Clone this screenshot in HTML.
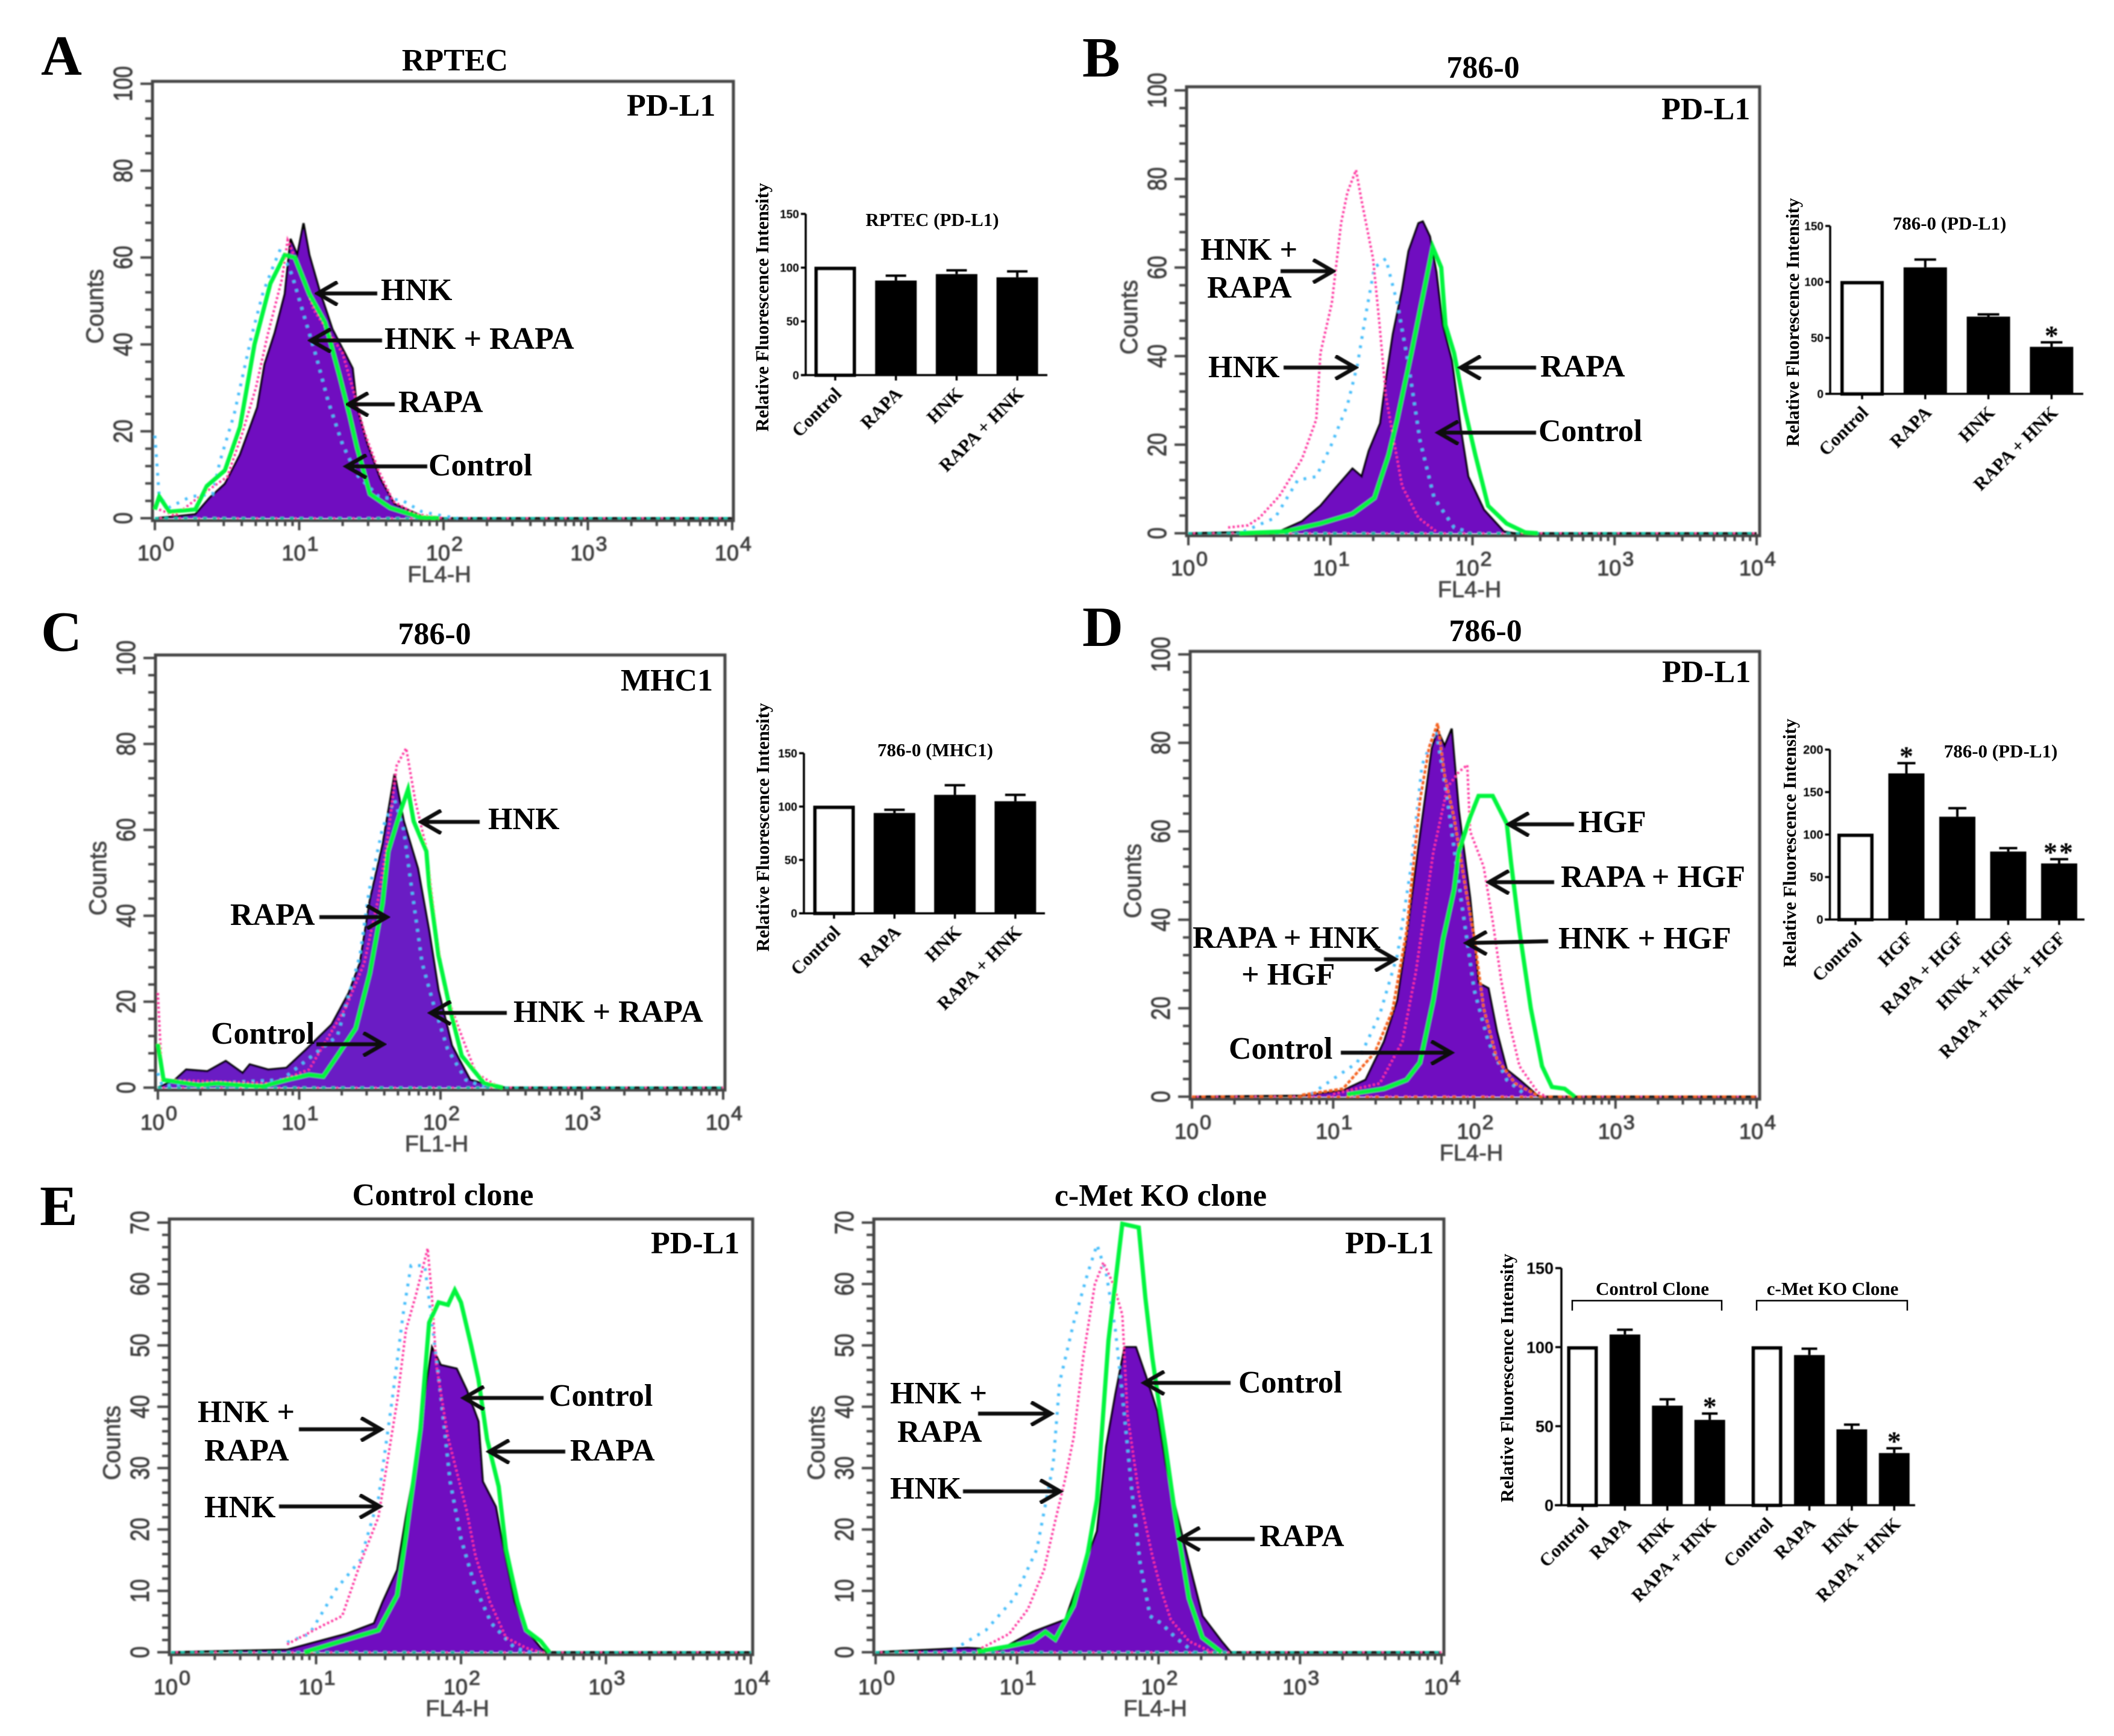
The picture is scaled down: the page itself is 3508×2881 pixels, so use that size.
<!DOCTYPE html>
<html lang="en">
<head>
<meta charset="utf-8">
<title>Flow cytometry histograms and relative fluorescence bar charts</title>
<style>
html,body{margin:0;padding:0;background:#fff;}
svg{display:block;}
.serif{font-family:"Liberation Serif",serif;font-weight:bold;fill:#000;}
.ann{font-size:52px;}
.plab{font-size:94px;}
.btitle{font-size:31px;}
.arrow{fill:none;stroke:#111;stroke-width:6.5;}
</style>
</head>
<body>
<svg xmlns="http://www.w3.org/2000/svg" width="3508" height="2881" viewBox="0 0 3508 2881">
<defs>
<filter id="soft" x="-5%" y="-5%" width="110%" height="110%"><feGaussianBlur stdDeviation="1.1"/></filter>
<filter id="softer" x="-5%" y="-5%" width="110%" height="110%"><feGaussianBlur stdDeviation="0.7"/></filter>
</defs>
<rect width="3508" height="2881" fill="#fff"/>

<g id="flow-a" filter="url(#soft)"></g>
<g id="flow-b" filter="url(#soft)"></g>
<g id="flow-c" filter="url(#soft)"></g>
<g id="flow-d" filter="url(#soft)"></g>
<g id="flow-e1" filter="url(#soft)"></g>
<g id="flow-e2" filter="url(#soft)"></g>

<g id="bars-a" filter="url(#softer)"></g>
<g id="bars-b" filter="url(#softer)"></g>
<g id="bars-c" filter="url(#softer)"></g>
<g id="bars-d" filter="url(#softer)"></g>
<g id="bars-e" filter="url(#softer)"></g>

<!-- panel letters -->
<text class="serif plab" x="68" y="124">A</text>
<text class="serif plab" x="1796" y="127">B</text>
<text class="serif plab" x="68" y="1080">C</text>
<text class="serif plab" x="1796" y="1072">D</text>
<text class="serif plab" x="66" y="2033">E</text>

<!-- panel titles -->
<text class="serif ann" x="755" y="117" text-anchor="middle">RPTEC</text>
<text class="serif ann" x="2461" y="129" text-anchor="middle">786-0</text>
<text class="serif ann" x="721" y="1069" text-anchor="middle">786-0</text>
<text class="serif ann" x="2465" y="1064" text-anchor="middle">786-0</text>
<text class="serif ann" x="735" y="2000" text-anchor="middle">Control clone</text>
<text class="serif ann" x="1926" y="2001" text-anchor="middle">c-Met KO clone</text>

<!-- marker labels -->
<text class="serif ann" x="1040" y="192">PD-L1</text>
<text class="serif ann" x="2757" y="198">PD-L1</text>
<text class="serif ann" x="1030" y="1146">MHC1</text>
<text class="serif ann" x="2758" y="1132">PD-L1</text>
<text class="serif ann" x="1080" y="2080">PD-L1</text>
<text class="serif ann" x="2232" y="2080">PD-L1</text>

<!-- panel A annotations -->
<g>
<text class="serif ann" x="632" y="498">HNK</text>
<text class="serif ann" x="638" y="579">HNK + RAPA</text>
<text class="serif ann" x="661" y="684">RAPA</text>
<text class="serif ann" x="711" y="789">Control</text>
<path class="arrow" filter="url(#softer)" d="M626 487H527M560 468L527 487L560 506"/>
<path class="arrow" filter="url(#softer)" d="M634 565H516M549 546L516 565L549 584"/>
<path class="arrow" filter="url(#softer)" d="M655 671H578M611 652L578 671L611 690"/>
<path class="arrow" filter="url(#softer)" d="M709 774H575M608 755L575 774L608 793"/>
</g>

<!-- panel B annotations -->
<g>
<text class="serif ann" x="1992" y="431">HNK +</text>
<text class="serif ann" x="2003" y="494">RAPA</text>
<text class="serif ann" x="2005" y="626">HNK</text>
<text class="serif ann" x="2556" y="625">RAPA</text>
<text class="serif ann" x="2553" y="732">Control</text>
<path class="arrow" filter="url(#softer)" d="M2125 450H2212M2179 431L2212 450L2179 469"/>
<path class="arrow" filter="url(#softer)" d="M2130 610H2249M2216 591L2249 610L2216 629"/>
<path class="arrow" filter="url(#softer)" d="M2549 610H2424M2457 591L2424 610L2457 629"/>
<path class="arrow" filter="url(#softer)" d="M2549 718H2387M2420 699L2387 718L2420 737"/>
</g>

<!-- panel C annotations -->
<g>
<text class="serif ann" x="810" y="1376">HNK</text>
<text class="serif ann" x="382" y="1535">RAPA</text>
<text class="serif ann" x="350" y="1732">Control</text>
<text class="serif ann" x="852" y="1696">HNK + RAPA</text>
<path class="arrow" filter="url(#softer)" d="M796 1364H699M732 1345L699 1364L732 1383"/>
<path class="arrow" filter="url(#softer)" d="M530 1522H642M609 1503L642 1522L609 1541"/>
<path class="arrow" filter="url(#softer)" d="M525 1733H636M603 1714L636 1733L603 1752"/>
<path class="arrow" filter="url(#softer)" d="M841 1681H715M748 1662L715 1681L748 1700"/>
</g>

<!-- panel D annotations -->
<g>
<text class="serif ann" x="2619" y="1381">HGF</text>
<text class="serif ann" x="2590" y="1472">RAPA + HGF</text>
<text class="serif ann" x="2586" y="1574">HNK + HGF</text>
<text class="serif ann" x="1979" y="1573">RAPA + HNK</text>
<text class="serif ann" x="2060" y="1634">+ HGF</text>
<text class="serif ann" x="2039" y="1757">Control</text>
<path class="arrow" filter="url(#softer)" d="M2612 1368H2504M2537 1349L2504 1368L2537 1387"/>
<path class="arrow" filter="url(#softer)" d="M2579 1464H2471M2504 1445L2471 1464L2504 1483"/>
<path class="arrow" filter="url(#softer)" d="M2569 1562L2434 1565M2467 1546L2434 1565L2467 1584"/>
<path class="arrow" filter="url(#softer)" d="M2197 1592H2315M2282 1573L2315 1592L2282 1611"/>
<path class="arrow" filter="url(#softer)" d="M2225 1747H2408M2375 1728L2408 1747L2375 1766"/>
</g>

<!-- panel E control clone annotations -->
<g>
<text class="serif ann" x="328" y="2360">HNK +</text>
<text class="serif ann" x="339" y="2424">RAPA</text>
<text class="serif ann" x="339" y="2518">HNK</text>
<text class="serif ann" x="911" y="2333">Control</text>
<text class="serif ann" x="946" y="2424">RAPA</text>
<path class="arrow" filter="url(#softer)" d="M496 2372H632M599 2353L632 2372L599 2391"/>
<path class="arrow" filter="url(#softer)" d="M463 2500H630M597 2481L630 2500L597 2519"/>
<path class="arrow" filter="url(#softer)" d="M902 2320H770M803 2301L770 2320L803 2339"/>
<path class="arrow" filter="url(#softer)" d="M938 2409H812M845 2390L812 2409L845 2428"/>
</g>

<!-- panel E KO annotations -->
<g>
<text class="serif ann" x="1477" y="2329">HNK +</text>
<text class="serif ann" x="1489" y="2393">RAPA</text>
<text class="serif ann" x="1477" y="2487">HNK</text>
<text class="serif ann" x="2055" y="2311">Control</text>
<text class="serif ann" x="2090" y="2566">RAPA</text>
<path class="arrow" filter="url(#softer)" d="M1623 2346H1744M1711 2327L1744 2346L1711 2365"/>
<path class="arrow" filter="url(#softer)" d="M1598 2475H1759M1726 2456L1759 2475L1726 2494"/>
<path class="arrow" filter="url(#softer)" d="M2042 2295H1899M1932 2276L1899 2295L1932 2314"/>
<path class="arrow" filter="url(#softer)" d="M2082 2554H1958M1991 2535L1958 2554L1991 2573"/>
</g>

<!-- bar chart titles -->
<text class="serif btitle" x="1547" y="375" text-anchor="middle">RPTEC (PD-L1)</text>
<text class="serif btitle" x="3235" y="381" text-anchor="middle">786-0 (PD-L1)</text>
<text class="serif btitle" x="1552" y="1255" text-anchor="middle">786-0 (MHC1)</text>
<text class="serif btitle" x="3320" y="1257" text-anchor="middle">786-0 (PD-L1)</text>
<text class="serif btitle" x="2742" y="2149" text-anchor="middle">Control Clone</text>
<text class="serif btitle" x="3041" y="2149" text-anchor="middle">c-Met KO Clone</text>
<path d="M2609 2175V2158.5H2857V2175" fill="none" stroke="#000" stroke-width="2.5"/>
<path d="M2915 2175V2158.5H3165V2175" fill="none" stroke="#000" stroke-width="2.5"/>

<!-- bar chart y axis titles -->
<text class="serif btitle" transform="translate(1275 510) rotate(-90)" text-anchor="middle">Relative Fluorescence Intensity</text>
<text class="serif btitle" transform="translate(2985 535) rotate(-90)" text-anchor="middle">Relative Fluorescence Intensity</text>
<text class="serif btitle" transform="translate(1276 1373) rotate(-90)" text-anchor="middle">Relative Fluorescence Intensity</text>
<text class="serif btitle" transform="translate(2980 1399) rotate(-90)" text-anchor="middle">Relative Fluorescence Intensity</text>
<text class="serif btitle" transform="translate(2511 2287) rotate(-90)" text-anchor="middle">Relative Fluorescence Intensity</text>
</svg>

<script>
// ---- shared tick values ----
const xTickDecades = [0, 1, 2, 3, 4];
const xMinorMultipliers = [2, 3, 4, 5, 6, 7, 8, 9];
const yTicks100 = [0, 20, 40, 60, 80, 100];
const yTicks70 = [0, 10, 20, 30, 40, 50, 60, 70];

// ---- Panel A: log10(FL) positions and counts ----
const aControlLog = [0.14,0.28,0.38,0.485,0.59,0.71,0.76,0.83,0.9,0.94,0.987,1.03,1.07,1.14,1.23,1.316,1.37,1.4,1.47,1.56,1.66,1.87,2.0];
const aControlCounts = [0.4,0.9,4.7,7.9,14.6,25.5,35.4,42.6,51.6,64.3,60.6,67.9,60.6,52.5,43.5,38,34.5,25.5,17.3,9.2,3.3,0.2,0];
const aHnkLog = [0,0.03,0.1,0.25,0.4,0.45,0.55,0.67,0.75,0.82,0.87,0.95,1.03,1.12,1.2,1.3,1.4,1.55,1.72,1.85,2,2.1];
const aHnkCounts = [19,5,2.5,5,5.5,13,24,42,52,58,62,56,47,37,27,17,10,5,4,1.5,0.5,0];
const aHnkRapaLog = [0.03,0.14,0.35,0.5,0.6,0.7,0.78,0.88,0.92,0.97,1.03,1.1,1.22,1.3,1.37,1.45,1.55,1.65,1.8,2];
const aHnkRapaCounts = [2,0.6,6,9.5,19,30,42,55,64,60,55,48,42,38,30,20,11,4,1,0];
const aRapaLog = [0,0.03,0.1,0.28,0.36,0.485,0.59,0.69,0.8,0.9,0.97,1.07,1.18,1.28,1.35,1.4,1.49,1.63,1.84,1.97];
const aRapaCounts = [2,5,1.5,2,7.4,11,21,40,54,60.6,60,51.6,45,32.7,23.6,16.4,5.6,2.4,0.2,0];

// ---- Panel B ----
const bControlLog = [0.64,0.8,0.93,1.03,1.155,1.22,1.27,1.35,1.39,1.44,1.505,1.55,1.62,1.65,1.7,1.745,1.79,1.855,1.92,1.97,2.08,2.22,2.29];
const bControlCounts = [0.4,2.7,6.2,10,14.6,12.8,18.6,24.8,34.5,45,55,63.7,70,70.4,67,59,47,39,23,12.8,5.3,0.4,0];
const bHnkLog = [0.39,0.61,0.77,0.9,1.0,1.12,1.19,1.25,1.31,1.39,1.47,1.55,1.63,1.73,1.87,1.98];
const bHnkCounts = [0.4,3.5,12,12.8,19.5,29,38,49.6,60,62,52,38,21,8,1.3,0.2];
const bHnkRapaLog = [0.28,0.42,0.5,0.64,0.8,0.9,0.93,1.01,1.075,1.12,1.18,1.22,1.3,1.346,1.39,1.44,1.505,1.62,1.745];
const bHnkRapaCounts = [1.3,1.8,3.5,8.4,16.8,25.7,40.7,52,70,77,82,75,62,47,31,22,10.6,3.5,0.4];
const bRapaLog = [0.36,0.68,0.93,1.155,1.31,1.41,1.47,1.57,1.665,1.72,1.78,1.81,1.87,1.95,2.02,2.11,2.24,2.37,2.46];
const bRapaCounts = [0,0.4,2.2,4.4,8,17.7,25.7,40.7,55.8,64.6,60,47,40.7,27.4,17.7,6.2,2.2,0.2,0];

// ---- Panel C ----
const cControlLog = [0.12,0.2,0.35,0.48,0.6,0.65,0.78,0.91,1.04,1.23,1.35,1.43,1.5,1.59,1.675,1.74,1.84,1.92,1.985,2.08,2.21,2.38,2.47];
const cControlCounts = [1.8,4.2,3.8,6.2,3.4,5.4,4.2,4.6,8.6,14.7,22,29,43.6,56.5,73,62,51,36.4,22.7,9.8,1.8,0.3,0];
const cHnkLog = [0,0.03,0.875,1.27,1.43,1.495,1.59,1.675,1.74,1.79,1.87,1.95,2.05,2.18,2.31];
const cHnkCounts = [3.4,0.5,1.8,12,30.8,46,60.5,67,60,47.7,29,19.5,9,1.8,0.2];
const cHnkRapaLog = [0,0.03,0.81,1.07,1.33,1.46,1.56,1.63,1.69,1.757,1.82,1.9,1.97,2.03,2.15,2.25,2.41];
const cHnkRapaCounts = [22,1.8,1,4.2,18.7,29,44,59,75,79,67,55.7,36,22.7,12,3.4,0.2];
const cRapaLog = [0,0.04,0.29,0.42,0.58,0.745,0.91,1.07,1.17,1.27,1.4,1.5,1.59,1.63,1.72,1.77,1.81,1.9,1.92,1.985,2.07,2.15,2.31,2.44];
const cRapaCounts = [10.2,1.8,0.6,1,0.6,0.3,1.8,3,2.6,7.4,13.8,26.7,43,55,64.6,69.4,62,55,47,30.8,18,7.4,1,0];

// ---- Panel D ----
const dControlLog = [0.78,1.07,1.23,1.36,1.455,1.52,1.6,1.65,1.7,1.74,1.79,1.84,1.89,1.97,2.03,2.1,2.16,2.23,2.32,2.45,2.48];
const dControlCounts = [0.2,1.4,3.8,12.4,21.8,35.8,55.4,67,78.9,82.8,79.3,83.2,64.8,45,25.7,24.5,14.7,6.1,3.8,0.2,0];
const dRapaHnkHgfLog = [0.78,1.07,1.295,1.42,1.52,1.615,1.68,1.74,1.79,1.857,1.94,2.0,2.066,2.16,2.29,2.45];
const dRapaHnkHgfCounts = [0.4,1.8,10,19.4,37.4,67,79,84.4,72.6,63,46.8,35.8,20,8.5,3,0.2];
const dHnkHgfLog = [0.845,1.17,1.33,1.455,1.55,1.63,1.73,1.81,1.905,2.0,2.1,2.23,2.355];
const dHnkHgfCounts = [0.6,7.7,18.6,32,51.5,75,82.8,67,45,24,12.4,3.8,0.6];
const dRapaHgfLog = [1.0,1.33,1.49,1.585,1.71,1.81,1.89,1.95,1.97,2.066,2.13,2.19,2.24,2.32,2.45,2.51];
const dRapaHgfCounts = [0.6,3,12.4,28,55.4,70,73.4,75,60,52,39.7,26.4,17.8,6.9,1,0];
const dHgfLog = [1.1,1.36,1.52,1.615,1.71,1.78,1.857,1.89,1.97,2.03,2.13,2.23,2.26,2.32,2.4,2.48,2.55,2.64,2.71];
const dHgfCounts = [0.5,1.8,3.8,7.7,21.8,35.8,46.8,55.4,63.2,68,68,61.7,53,37.4,20,6.9,2.2,1.8,0];

// ---- Panel E, control clone ----
const e1ControlLog = [0.8,1.02,1.21,1.4,1.46,1.56,1.62,1.7,1.75,1.8,1.86,1.97,2.04,2.12,2.15,2.24,2.29,2.37,2.45,2.55,2.59];
const e1ControlCounts = [0.4,1.8,3,4.7,8.2,13.4,22,32.4,42,49.7,46.8,46.2,42.7,37.6,27.8,23.7,17.4,8.2,3.6,0.7,0];
const e1HnkLog = [0.8,0.955,1.145,1.305,1.43,1.53,1.6,1.655,1.75,1.8,1.86,1.925,2.0,2.1,2.21,2.37,2.48];
const e1HnkCounts = [1.6,3,10.5,15,25,42,55,63,63,53.7,42,27.8,18.5,10.5,4.7,0.7,0];
const e1HnkRapaLog = [0.8,1.05,1.18,1.305,1.43,1.56,1.62,1.69,1.77,1.8,1.83,1.91,2.04,2.1,2.2,2.31,2.45,2.55];
const e1HnkRapaCounts = [1.3,4.4,5.9,14.5,22,41,52.5,58.3,65.8,57.7,46.8,35,23,15.7,8.2,2.4,0.7,0];
const e1RapaLog = [0.92,1.145,1.43,1.56,1.62,1.72,1.78,1.845,1.91,1.957,2.0,2.07,2.12,2.18,2.26,2.31,2.39,2.45,2.55,2.61];
const e1RapaCounts = [0,1.6,3.6,9.3,19,36.4,53.7,57,56.6,59,57,50,44.5,34.7,27,16.8,8.2,3.6,1.8,0];

// ---- Panel E, c-Met KO clone ----
const e2ControlLog = [0.65,0.88,1.11,1.34,1.5,1.565,1.63,1.695,1.76,1.84,1.91,1.99,2.05,2.135,2.215,2.31,2.445,2.51];
const e2ControlCounts = [0.7,0.4,3.3,5.3,15.7,19.7,33.5,42,49.7,49.7,45,39.3,30.6,22,14.5,5.9,1.8,0];
const e2HnkLog = [0.55,0.78,0.98,1.14,1.255,1.3,1.4,1.5,1.565,1.63,1.695,1.744,1.81,1.87,1.94,2.02,2.12,2.25];
const e2HnkCounts = [0.4,3.6,8.8,16.8,30.6,43.9,53.7,61.8,66.4,61.8,52.5,42,26.6,14.5,5.9,4.7,2.4,0];
const e2HnkRapaLog = [0.75,0.945,1.076,1.19,1.27,1.336,1.4,1.467,1.55,1.61,1.68,1.744,1.78,1.86,1.956,2.02,2.087,2.215,2.38];
const e2HnkRapaCounts = [0.7,3,7,13.4,21.4,27.8,35,48,60,63.5,60,55,38.7,26,15.7,10,5.3,1.8,0];
const e2RapaLog = [0.72,0.945,1.11,1.2,1.27,1.4,1.5,1.565,1.646,1.744,1.86,1.907,1.956,2.0,2.05,2.12,2.215,2.31,2.445];
const e2RapaCounts = [0.1,1,1.8,3.3,2.1,7.6,16.2,24.9,50.8,69.8,69.2,57.7,48,41,33.5,22,8.8,2.4,0];

// ---- Bar charts ----
const barATicks = [0, 50, 100, 150];
const barACategories = ['Control', 'RAPA', 'HNK', 'RAPA + HNK'];
const barAValues = [100, 88, 94, 91];
const barAErrors = [0, 4.5, 3.5, 5.5];
const barAStars = ['', '', '', ''];

const barBTicks = [0, 50, 100, 150];
const barBCategories = ['Control', 'RAPA', 'HNK', 'RAPA + HNK'];
const barBValues = [100, 113, 69, 42];
const barBErrors = [0, 7, 2, 4];
const barBStars = ['', '', '', '*'];

const barCTicks = [0, 50, 100, 150];
const barCCategories = ['Control', 'RAPA', 'HNK', 'RAPA + HNK'];
const barCValues = [100, 94, 111, 105];
const barCErrors = [0, 3, 9, 6];
const barCStars = ['', '', '', ''];

const barDTicks = [0, 50, 100, 150, 200];
const barDCategories = ['Control', 'HGF', 'RAPA + HGF', 'HNK + HGF', 'RAPA + HNK + HGF'];
const barDValues = [100, 172, 121, 80, 66];
const barDErrors = [0, 12, 10, 4, 5];
const barDStars = ['', '*', '', '', '**'];

const barETicks = [0, 50, 100, 150];
const barECategories = ['Control', 'RAPA', 'HNK', 'RAPA + HNK', 'Control', 'RAPA', 'HNK', 'RAPA + HNK'];
const barEValues = [100, 108, 63, 54, 100, 95, 48, 33];
const barEErrors = [0, 3, 4, 4, 0, 4, 3, 3];
const barEStars = ['', '', '', '*', '', '', '', '*'];

// ---- Drawing ----
const NS = 'http://www.w3.org/2000/svg';
function make(tag, attrs, parent) {
  const el = document.createElementNS(NS, tag);
  for (const k in attrs) el.setAttribute(k, attrs[k]);
  parent.appendChild(el);
  return el;
}
const SANS = '"Liberation Sans", Arial, sans-serif';
const SERIF = '"Liberation Serif", "Times New Roman", serif';

function curvePoints(log, counts, x, y, extend) {
  const pts = log.map((l, i) => [l, counts[i]]);
  if (extend) {
    if (pts[0][0] > 0) pts.unshift([0, 0]);
    if (pts[pts.length - 1][0] < 4) pts.push([4, 0]);
  }
  return pts.map(p => x(p[0]).toFixed(1) + ',' + y(p[1]).toFixed(1)).join(' ');
}

function drawFlow(hostId, frame, yTicks, yMinorStep, xLabel, fillColor, baselineColor, control, overlays) {
  const host = document.getElementById(hostId);
  const x = l => frame.x0 + l * (frame.x4 - frame.x0) / 4;
  const yMax = yTicks[yTicks.length - 1];
  const y = c => frame.y0 - c * (frame.y0 - frame.yTop) / yMax;
  const AX = '#444';

  const base = x(0).toFixed(1) + ',' + y(0).toFixed(1);
  const fillPts = curvePoints(control.log, control.counts, x, y, true);
  const area = make('polygon', {points: base + ' ' + fillPts, fill: fillColor, stroke: 'none'}, host);
  
  
  const outline = make('polyline', {points: fillPts, fill: 'none', stroke: '#000', 'stroke-width': 3.5}, host);
  
  

  const box = make('rect', {x: frame.left, y: frame.top, width: frame.right - frame.left, height: frame.y0 + 4 - frame.top, fill: 'none', stroke: AX, 'stroke-width': 5}, host);
  
  

  const dotsA = make('path', {d: 'M' + x(0) + ' ' + y(0) + 'H' + x(4), fill: 'none', stroke: baselineColor, 'stroke-width': 4, 'stroke-dasharray': '6 10'}, host);
  
  
  const dotsB = make('path', {d: 'M' + (x(0) + 8) + ' ' + y(0) + 'H' + x(4), fill: 'none', stroke: '#ff49a6', 'stroke-width': 3, 'stroke-dasharray': '3 29'}, host);
  
  

  overlays.forEach(s => {
    const line = make('polyline', {points: curvePoints(s.log, s.counts, x, y, false), fill: 'none', stroke: s.color, 'stroke-width': s.width}, host);
    if (s.dash) line.setAttribute('stroke-dasharray', s.dash);
    
    
  });

  // axis ticks
  let d = '';
  for (let c = 0; c <= yMax; c += yMinorStep) {
    const major = yTicks.indexOf(c) >= 0;
    d += 'M' + frame.left + ' ' + y(c).toFixed(1) + 'h-' + (major ? 20 : 12);
  }
  xTickDecades.forEach((k, idx) => {
    d += 'M' + x(k).toFixed(1) + ' ' + (frame.y0 + 2) + 'v18';
    if (idx < xTickDecades.length - 1) xMinorMultipliers.forEach(m => {
      d += 'M' + x(k + Math.log10(m)).toFixed(1) + ' ' + (frame.y0 + 2) + 'v11';
    });
  });
  const ticks = make('path', {d: d, fill: 'none', stroke: AX, 'stroke-width': 4}, host);
  
  

  // y tick labels
  yTicks.forEach(c => {
    const s = String(c);
    const t = make('text', {transform: 'translate(' + (frame.left - 34) + ' ' + y(c).toFixed(1) + ') rotate(-90)', 'text-anchor': 'middle', 'font-family': SANS, 'font-size': 44, fill: '#3e3e3e', stroke: '#3e3e3e', 'stroke-width': 1, textLength: s.length * 19.5, lengthAdjust: 'spacingAndGlyphs'}, host);
    t.textContent = s;
    
    
  });

  // x tick labels
  xTickDecades.forEach(k => {
    const t = make('text', {x: x(k) - 29, y: frame.y0 + 70, 'font-family': SANS, 'font-size': 36, fill: '#3e3e3e', stroke: '#3e3e3e', 'stroke-width': 1, textLength: 40, lengthAdjust: 'spacingAndGlyphs'}, host);
    t.textContent = '10';
    
    
    const e = make('text', {x: x(k) + 13, y: frame.y0 + 54, 'font-family': SANS, 'font-size': 33, fill: '#3e3e3e', stroke: '#3e3e3e', 'stroke-width': 1, textLength: 19, lengthAdjust: 'spacingAndGlyphs'}, host);
    e.textContent = String(k);
    
    
  });

  const xt = make('text', {x: (frame.left + frame.right) / 2 - 6, y: frame.y0 + 106, 'text-anchor': 'middle', 'font-family': SANS, 'font-size': 38, fill: '#444', stroke: '#444', 'stroke-width': 0.8}, host);
  xt.textContent = xLabel;
  
  
  const yt = make('text', {transform: 'translate(' + (frame.left - 82) + ' ' + ((frame.y0 + frame.yTop) / 2 + 9) + ') rotate(-90)', 'text-anchor': 'middle', 'font-family': SANS, 'font-size': 40, fill: '#444', stroke: '#444', 'stroke-width': 0.8, textLength: 124, lengthAdjust: 'spacingAndGlyphs'}, host);
  yt.textContent = 'Counts';
  
  
}

const PINK = {color: '#ff2f9c', width: 4, dash: '3.5 4'};
const BLUE = {color: '#45bdfb', width: 5, dash: '4.5 11'};
const GREEN = {color: '#00f53c', width: 7, dash: ''};
const ORANGE = {color: '#f5601a', width: 4.5, dash: '6 3'};
function style(base, name, log, counts) {
  return {color: base.color, width: base.width, dash: base.dash, name: name, log: log, counts: counts};
}
const PURPLE = '#7008c0';
const TEAL = '#14c0a8';

drawFlow('flow-a', {left: 253, right: 1217, top: 135, yTop: 139, y0: 860, x0: 257, x4: 1215}, yTicks100, 4, 'FL4-H', PURPLE, TEAL,
  {log: aControlLog, counts: aControlCounts},
  [style(BLUE, 'hnk', aHnkLog, aHnkCounts), style(PINK, 'hnk-rapa', aHnkRapaLog, aHnkRapaCounts), style(GREEN, 'rapa', aRapaLog, aRapaCounts)]);
drawFlow('flow-b', {left: 1969, right: 2920, top: 144, yTop: 150, y0: 885, x0: 1972, x4: 2915}, yTicks100, 4, 'FL4-H', PURPLE, TEAL,
  {log: bControlLog, counts: bControlCounts},
  [style(BLUE, 'hnk', bHnkLog, bHnkCounts), style(PINK, 'hnk-rapa', bHnkRapaLog, bHnkRapaCounts), style(GREEN, 'rapa', bRapaLog, bRapaCounts)]);
drawFlow('flow-c', {left: 258, right: 1203, top: 1087, yTop: 1092, y0: 1805, x0: 262, x4: 1200}, yTicks100, 4, 'FL1-H', '#6a1cc4', TEAL,
  {log: cControlLog, counts: cControlCounts},
  [style(BLUE, 'hnk', cHnkLog, cHnkCounts), style(PINK, 'hnk-rapa', cHnkRapaLog, cHnkRapaCounts), style(GREEN, 'rapa', cRapaLog, cRapaCounts)]);
drawFlow('flow-d', {left: 1975, right: 2920, top: 1081, yTop: 1086, y0: 1820, x0: 1978, x4: 2915}, yTicks100, 4, 'FL4-H', PURPLE, '#f5601a',
  {log: dControlLog, counts: dControlCounts},
  [style(BLUE, 'hnk-hgf', dHnkHgfLog, dHnkHgfCounts), style(ORANGE, 'rapa-hnk-hgf', dRapaHnkHgfLog, dRapaHnkHgfCounts), style(PINK, 'rapa-hgf', dRapaHgfLog, dRapaHgfCounts), style(GREEN, 'hgf', dHgfLog, dHgfCounts)]);
drawFlow('flow-e1', {left: 281, right: 1249, top: 2023, yTop: 2029, y0: 2742, x0: 284, x4: 1246}, yTicks70, 2, 'FL4-H', PURPLE, TEAL,
  {log: e1ControlLog, counts: e1ControlCounts},
  [style(BLUE, 'hnk', e1HnkLog, e1HnkCounts), style(PINK, 'hnk-rapa', e1HnkRapaLog, e1HnkRapaCounts), style(GREEN, 'rapa', e1RapaLog, e1RapaCounts)]);
drawFlow('flow-e2', {left: 1450, right: 2396, top: 2023, yTop: 2029, y0: 2742, x0: 1453, x4: 2392}, yTicks70, 2, 'FL4-H', PURPLE, TEAL,
  {log: e2ControlLog, counts: e2ControlCounts},
  [style(BLUE, 'hnk', e2HnkLog, e2HnkCounts), style(PINK, 'hnk-rapa', e2HnkRapaLog, e2HnkRapaCounts), style(GREEN, 'rapa', e2RapaLog, e2RapaCounts)]);

function drawBars(hostId, frame, ticks, categories, values, errors, stars) {
  const host = document.getElementById(hostId);
  const yMax = ticks[ticks.length - 1];
  const y = v => frame.y0 - v * (frame.y0 - frame.yTop) / yMax;
  const x = i => frame.x0 + i * frame.step + (i >= frame.gapAt ? frame.gap : 0);
  const w = frame.barWidth;

  categories.forEach((cat, i) => {
    const isControl = cat === 'Control';
    const bar = make('rect', {
      x: x(i) - w / 2 + (isControl ? 3 : 0),
      y: y(values[i]) + (isControl ? 3 : 0) - (isControl ? 1.5 : 0),
      width: w - (isControl ? 6 : 0),
      height: frame.y0 - y(values[i]) - (isControl ? 1.5 : 0),
      fill: isControl ? '#fff' : '#000',
      stroke: isControl ? '#000' : 'none',
      'stroke-width': isControl ? 6 : 0
    }, host);
    
    
    if (errors[i] > 0) {
      const top = y(values[i] + errors[i]);
      const err = make('path', {d: 'M' + x(i) + ' ' + y(values[i]) + 'V' + top + 'M' + (x(i) - frame.cap) + ' ' + top + 'H' + (x(i) + frame.cap), fill: 'none', stroke: '#000', 'stroke-width': 4}, host);
      
      
    }
    if (stars[i]) {
      const sy = y(values[i] + errors[i]) - 18 + 0.47 * 46;
      const st = make('text', {x: x(i) + (frame.starShift || 0), y: sy, 'text-anchor': 'middle', 'font-family': SERIF, 'font-weight': 'bold', 'font-size': 46, fill: '#000', 'letter-spacing': stars[i].length > 1 ? 3 : 0}, host);
      st.textContent = stars[i];
      
      
    }
    const tk = make('path', {d: 'M' + x(i) + ' ' + frame.y0 + 'v9', stroke: '#000', 'stroke-width': 3.5, fill: 'none'}, host);
    
    
    const lb = make('text', {transform: 'translate(' + (x(i) + 12) + ' ' + (frame.y0 + 33) + ') rotate(-45)', 'text-anchor': 'end', 'font-family': SERIF, 'font-weight': 'bold', 'font-size': 30.5, fill: '#000'}, host);
    lb.textContent = cat;
    
    
  });

  const axis = make('path', {d: 'M' + frame.axisX + ' ' + frame.yTop + 'V' + frame.y0 + 'M' + frame.xStart + ' ' + frame.y0 + 'H' + frame.xEnd, fill: 'none', stroke: '#000', 'stroke-width': 3.5}, host);
  
  

  ticks.forEach(v => {
    const tk = make('path', {d: 'M' + frame.axisX + ' ' + y(v) + 'h-' + frame.tickLen, fill: 'none', stroke: '#000', 'stroke-width': 3.5}, host);
    
    
    const lb = make('text', {x: frame.axisX - frame.tickLen - 3, y: y(v) + frame.fontSize * 0.36, 'text-anchor': 'end', 'font-family': SANS, 'font-weight': 'bold', 'font-size': frame.fontSize, fill: '#000'}, host);
    lb.textContent = String(v);
    
    
  });
}

drawBars('bars-a', {axisX: 1337, xStart: 1329, xEnd: 1738, yTop: 355, y0: 622.5, x0: 1386, step: 100.7, gapAt: 99, gap: 0, barWidth: 69, cap: 17, tickLen: 8, fontSize: 19}, barATicks, barACategories, barAValues, barAErrors, barAStars);
drawBars('bars-b', {axisX: 3037, xStart: 3030, xEnd: 3457, yTop: 375, y0: 653.6, x0: 3090, step: 104.8, gapAt: 99, gap: 0, barWidth: 72, cap: 18, tickLen: 8, fontSize: 19}, barBTicks, barBCategories, barBValues, barBErrors, barBStars);
drawBars('bars-c', {axisX: 1334, xStart: 1327, xEnd: 1734, yTop: 1250, y0: 1515.7, x0: 1384, step: 100.3, gapAt: 99, gap: 0, barWidth: 69, cap: 17, tickLen: 8, fontSize: 19}, barCTicks, barCCategories, barCValues, barCErrors, barCStars);
drawBars('bars-d', {axisX: 3036.5, xStart: 3028, xEnd: 3459, yTop: 1244, y0: 1526, x0: 3079, step: 84.5, gapAt: 99, gap: 0, barWidth: 60, cap: 15, tickLen: 8, fontSize: 20}, barDTicks, barDCategories, barDValues, barDErrors, barDStars);
drawBars('bars-e', {axisX: 2591, xStart: 2580, xEnd: 3178, yTop: 2104.5, y0: 2498, x0: 2626, step: 70.4, gapAt: 4, gap: 24.5, barWidth: 51, cap: 13, tickLen: 10, fontSize: 27}, barETicks, barECategories, barEValues, barEErrors, barEStars);
</script>
</body>
</html>
